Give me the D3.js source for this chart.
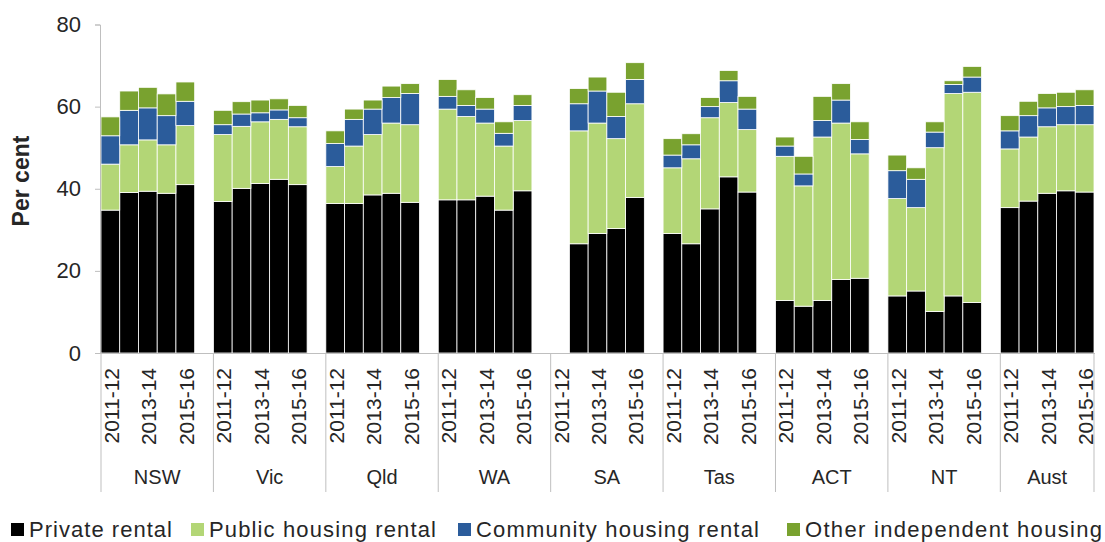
<!DOCTYPE html>
<html>
<head>
<meta charset="utf-8">
<script src="https://cdn.jsdelivr.net/npm/d3@7"></script>
<style>
  body { margin: 0; background: #fff; }
  svg { display: block; font-family: "Liberation Sans", Arial, sans-serif; }
</style>
</head>
<body>
<svg></svg>
<script>
// categories
let states = ['NSW', 'Vic', 'Qld', 'WA', 'SA', 'Tas', 'ACT', 'NT', 'Aust']
let years = ['2011-12', '2012-13', '2013-14', '2014-15', '2015-16']
let yTicks = [0, 20, 40, 60, 80]

// series values (per cent), one row per state, one value per year
let privateRental = [
  [34.8, 39.1, 39.4, 38.9, 41.0],
  [36.9, 40.1, 41.3, 42.3, 41.0],
  [36.4, 36.4, 38.5, 38.9, 36.7],
  [37.3, 37.3, 38.2, 34.8, 39.5],
  [null, 26.6, 29.1, 30.3, 37.9],
  [29.1, 26.6, 35.1, 42.9, 39.2],
  [12.8, 11.4, 12.8, 17.9, 18.2],
  [13.9, 15.1, 10.1, 13.9, 12.3],
  [35.4, 37.0, 38.9, 39.5, 39.2]
]
let publicHousing = [
  [11.2, 11.6, 12.5, 11.8, 14.4],
  [16.3, 15.1, 15.0, 14.6, 14.1],
  [9.0, 14.0, 14.7, 17.1, 18.9],
  [22.1, 20.3, 17.8, 15.6, 17.1],
  [null, 27.5, 26.9, 21.9, 22.8],
  [16.0, 20.7, 22.2, 18.1, 15.2],
  [35.1, 29.3, 39.8, 38.1, 30.3],
  [23.7, 20.3, 39.9, 49.3, 51.2],
  [14.3, 15.6, 16.2, 16.1, 16.4]
]
let communityHousing = [
  [6.9, 8.4, 7.8, 7.1, 5.9],
  [2.4, 3.0, 2.2, 2.3, 2.2],
  [5.6, 6.5, 6.2, 6.2, 7.6],
  [3.1, 2.7, 3.4, 3.1, 3.7],
  [null, 6.6, 7.8, 5.4, 5.9],
  [3.1, 3.4, 2.7, 5.3, 5.0],
  [2.5, 2.9, 4.0, 5.6, 3.5],
  [6.8, 6.9, 3.8, 2.2, 3.7],
  [4.4, 5.2, 4.6, 4.4, 4.7]
]
let otherIndependent = [
  [4.6, 4.7, 5.0, 5.3, 4.7],
  [3.5, 3.0, 3.1, 2.7, 3.0],
  [3.1, 2.5, 2.2, 2.8, 2.4],
  [4.1, 3.8, 2.8, 2.8, 2.6],
  [null, 3.7, 3.4, 5.9, 4.1],
  [4.0, 2.7, 2.2, 2.5, 3.1],
  [2.2, 4.3, 5.9, 4.0, 4.3],
  [3.8, 2.8, 2.5, 0.9, 2.6],
  [3.7, 3.5, 3.5, 3.5, 3.8]
]

let seriesNames = ['Private rental', 'Public housing rental', 'Community housing rental', 'Other independent housing']
let seriesData = [privateRental, publicHousing, communityHousing, otherIndependent]
let colors = ['#000000', '#b3d676', '#2b5c9b', '#79a22f']

let width = 1105, height = 542
let svg = d3.select('svg').attr('width', width).attr('height', height)

// one slot per year plus an empty slot between states
let slots = []
states.forEach(function(s, si) {
  years.forEach(function(y) { slots.push(s + '|' + y) })
  if (si < states.length - 1) slots.push(s + '|gap')
})

let x = d3.scaleBand().domain(slots).range([101, 1094]).padding(0)
let y = d3.scaleLinear().domain([0, 80]).range([353, 24.5])

// rows for the stack
let rows = []
states.forEach(function(s, si) {
  years.forEach(function(yr, yi) {
    let row = { key: s + '|' + yr, missing: privateRental[si][yi] == null }
    seriesNames.forEach(function(n, k) { row[n] = seriesData[k][si][yi] || 0 })
    rows.push(row)
  })
})

let stack = d3.stack().keys(seriesNames)
let layers = stack(rows)

let axisColor = '#bfbfbf'
let textColor = '#262626'

svg.selectAll('g.layer')
  .data(layers)
  .enter().append('g')
    .attr('class', 'layer')
    .attr('fill', function(d, i) { return colors[i] })
  .selectAll('rect')
  .data(function(d) { return d.filter(function(p) { return !p.data.missing }) })
  .enter().append('rect')
    .attr('x', function(d) { return x(d.data.key) })
    .attr('width', x.bandwidth())
    .attr('y', function(d) { return y(d[1]) })
    .attr('height', function(d) { return y(d[0]) - y(d[1]) })
    .attr('stroke', '#ffffff')
    .attr('stroke-width', 0.8)

// y axis
let yAxis = svg.append('g')
  .attr('transform', 'translate(100,0)')
  .call(d3.axisLeft(y).tickValues(yTicks).tickSize(5).tickPadding(14))
yAxis.select('.domain').attr('stroke', axisColor)
yAxis.selectAll('.tick line').attr('stroke', axisColor)
yAxis.selectAll('.tick text')
  .attr('fill', textColor)
  .style('font-size', '22px')
  .attr('font-family', '"Liberation Sans", Arial, sans-serif')

svg.append('text')
  .attr('transform', 'translate(29,181) rotate(-90)')
  .attr('text-anchor', 'middle')
  .attr('font-weight', 'bold')
  .attr('font-size', 23)
  .attr('fill', textColor)
  .text('Per cent')

// x axis line
svg.append('line')
  .attr('x1', 100).attr('x2', 1095)
  .attr('y1', 353.5).attr('y2', 353.5)
  .attr('stroke', axisColor)

// group separators
let bounds = states.map(function(s) { return x(s + '|' + years[0]) })
bounds.push(x.range()[1])
svg.selectAll('line.sep')
  .data(bounds)
  .enter().append('line')
    .attr('class', 'sep')
    .attr('x1', function(d) { return d }).attr('x2', function(d) { return d })
    .attr('y1', 353.5).attr('y2', 492)
    .attr('stroke', axisColor)

// year labels, every second year
let labelYears = [years[0], years[2], years[4]]
let yearLabels = []
states.forEach(function(s) {
  labelYears.forEach(function(yr) { yearLabels.push({ key: s + '|' + yr, text: yr }) })
})
svg.selectAll('text.year')
  .data(yearLabels)
  .enter().append('text')
    .attr('class', 'year')
    .attr('transform', function(d) {
      return 'translate(' + (x(d.key) + x.bandwidth() / 2 + 8.5) + ',368) rotate(-90)'
    })
    .attr('text-anchor', 'end')
    .attr('font-size', 21)
    .attr('fill', textColor)
    .text(function(d) { return d.text })

// state labels
svg.selectAll('text.state')
  .data(states)
  .enter().append('text')
    .attr('class', 'state')
    .attr('x', function(d, i) { return (bounds[i] + bounds[i + 1]) / 2 })
    .attr('y', 484)
    .attr('text-anchor', 'middle')
    .attr('font-size', 20)
    .attr('fill', textColor)
    .text(function(d) { return d })

// legend
let legendX = [11, 191, 458, 787]
let legendW = [143, 227, 283, 297]
let legend = svg.selectAll('g.legend')
  .data(seriesNames)
  .enter().append('g')
    .attr('class', 'legend')
    .attr('transform', function(d, i) { return 'translate(' + legendX[i] + ',523)' })
legend.append('rect')
  .attr('width', 13).attr('height', 13)
  .attr('fill', function(d, i) { return colors[i] })
legend.append('text')
  .attr('x', 18).attr('y', 14)
  .attr('font-size', 22)
  .attr('fill', textColor)
  .attr('textLength', function(d, i) { return legendW[i] })
  .attr('lengthAdjust', 'spacing')
  .text(function(d) { return d })
</script>
</body>
</html>
